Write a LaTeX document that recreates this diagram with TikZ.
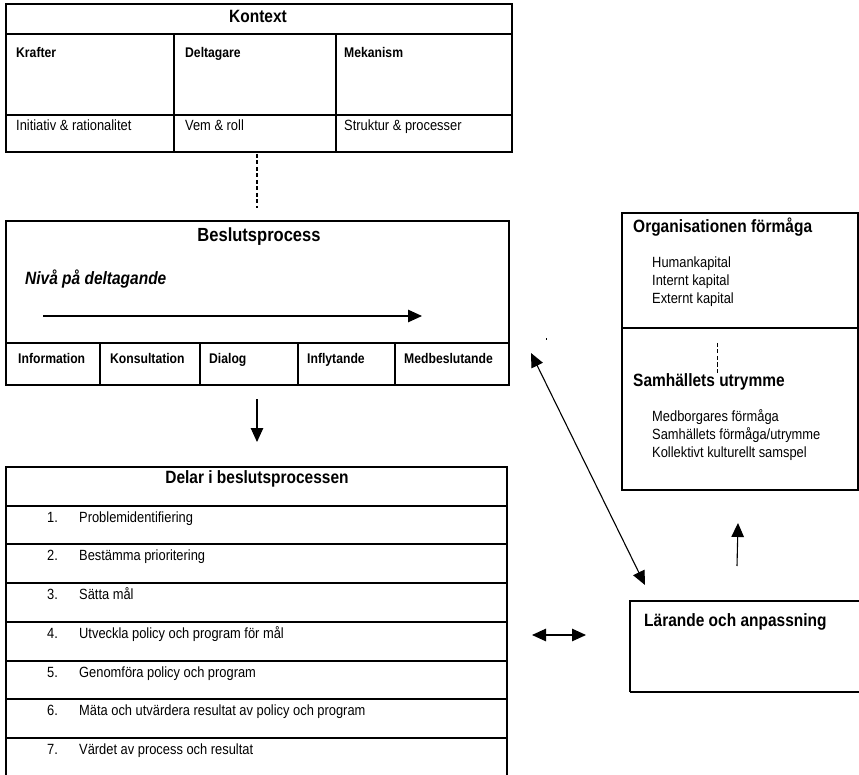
\documentclass[tikz,border=0pt]{standalone}
\usepackage{fontspec}
\setmainfont{Liberation Sans}[FakeStretch=0.87]
\usetikzlibrary{arrows.meta}
\newcommand\fsm{\fontsize{14.8}{17}\selectfont}
\newcommand\fbsm{\bfseries\fontsize{14}{16}\selectfont}
\newcommand\fttl{\bfseries\fontsize{17.8}{20}\selectfont}
\newcommand\fbig{\bfseries\fontsize{19}{22}\selectfont}
\begin{document}
\begin{tikzpicture}[x=1pt,y=-1pt,
  box/.style={draw=black, line width=1.3pt},
  sep/.style={draw=black, line width=1.2pt},
  txt/.style={inner sep=0pt, anchor=base west, font=\fsm},
  btxt/.style={inner sep=0pt, anchor=base west, font=\fbsm},
  ttl/.style={inner sep=0pt, anchor=base, font=\fttl},
  ttlw/.style={inner sep=0pt, anchor=base west, font=\fttl},
  conn/.style={draw=black, line width=1.1pt, -{Triangle[length=14pt,width=12.5pt]}},
  dconn/.style={draw=black, line width=1.1pt, {Triangle[length=14pt,width=12.5pt]}-{Triangle[length=14pt,width=12.5pt]}},
  dashconn/.style={draw=black, line width=1.1pt, dash pattern=on 4pt off 2.5pt}]
\useasboundingbox (0,0) rectangle (859,775);
\fill[white] (0,0) rectangle (859,775);

% ---------- Kontext ----------
\draw[box] (6,4) rectangle (512,152);
\draw[sep] (6,34) -- (512,34);
\draw[sep] (6,115) -- (512,115);
\draw[sep] (174,34) -- (174,152);
\draw[sep] (336,34) -- (336,152);
\node[ttl] (kontext) at (258,23) {Kontext};
\node[btxt] (krafter) at (16,58) {Krafter};
\node[btxt] (deltagare) at (185,58) {Deltagare};
\node[btxt] (mekanism) at (344,58) {Mekanism};
\node[txt] (initiativ) at (16,131) {Initiativ \& rationalitet};
\node[txt] (vem) at (185,131) {Vem \& roll};
\node[txt] (struktur) at (344,131) {Struktur \& processer};

\coordinate (d1a) at (257,154);
\coordinate (d1b) at (257,208);
\draw[dashconn] (d1a) -- (d1b);

% ---------- Beslutsprocess ----------
\draw[box] (6,221) rectangle (509,385);
\draw[sep] (6,343) -- (509,343);
\foreach \xx in {100,200,298,395} \draw[sep] (\xx,343) -- (\xx,385);
\node[inner sep=0pt, anchor=base, font=\fbig] (beslut) at (259,242) {Beslutsprocess};
\node[inner sep=0pt, anchor=base west, font=\fttl\itshape] (niva) at (25,285) {Nivå på deltagande};
\coordinate (na) at (43,316);
\coordinate (nb) at (422,316);
\draw[conn] (na) -- (nb);
\node[btxt] (info) at (18,363) {Information};
\node[btxt] (kons) at (110,363) {Konsultation};
\node[btxt] (dial) at (209,363) {Dialog};
\node[btxt] (infl) at (307,363) {Inflytande};
\node[btxt] (medb) at (404,363) {Medbeslutande};

\coordinate (a1a) at (257,399);
\coordinate (a1b) at (257,442);
\draw[conn] (a1a) -- (a1b);

% ---------- Delar i beslutsprocessen ----------
\draw[box] (6,779) -- (6,467) -- (507,467) -- (507,779);
\node[ttl] (delar) at (257,483) {Delar i beslutsprocessen};
\foreach \yy/\nn/\tt in {506/1./Problemidentifiering,
                        544/2./Bestämma prioritering,
                        583/3./Sätta mål,
                        622/4./Utveckla policy och program för mål,
                        661/5./Genomföra policy och program,
                        699/6./Mäta och utvärdera resultat av policy och program,
                        738/7./Värdet av process och resultat}{
  \draw[sep] (6,\yy) -- (507,\yy);
  \node[txt] at (47,\yy+16) {\nn};
  \node[txt] at (79,\yy+16) {\tt};
}

% ---------- Organisationen / Samhällets ----------
\draw[box] (622,213) rectangle (858,490);
\draw[sep] (622,328) -- (858,328);
\node[ttlw] (org) at (633,233) {Organisationen förmåga};
\node[txt] (hum) at (652,268) {Humankapital};
\node[txt] (int) at (652,286) {Internt kapital};
\node[txt] (ext) at (652,304) {Externt kapital};
\coordinate (d2a) at (717,343);
\coordinate (d2b) at (717,373);
\draw[dashconn, line width=0.9pt] (d2a) -- (d2b);
\node[ttlw] (samh) at (633,386) {Samhällets utrymme};
\node[txt] (medf) at (652,421) {Medborgares förmåga};
\node[txt] (samf) at (652,439) {Samhällets förmåga/utrymme};
\node[txt] (koll) at (652,457) {Kollektivt kulturellt samspel};

\fill[black] (545.5,338.5) rectangle (547,340);

% ---------- Lärande ----------
\draw[box] (630,692) -- (630,601) -- (866,601);
\draw[box] (630,692) -- (866,692);
\node[ttlw] (lar) at (644,626) {Lärande och anpassning};

% ---------- connectors ----------
\coordinate (g1) at (531,353);
\coordinate (g2) at (645,585);
\draw[dconn] (g1) -- (g2);
\coordinate (u1) at (737,566);
\coordinate (u2) at (738,523);
\draw[conn] (u1) -- (u2);
\coordinate (h1) at (532,635);
\coordinate (h2) at (586,635);
\draw[dconn] (h1) -- (h2);
\end{tikzpicture}
\end{document}
